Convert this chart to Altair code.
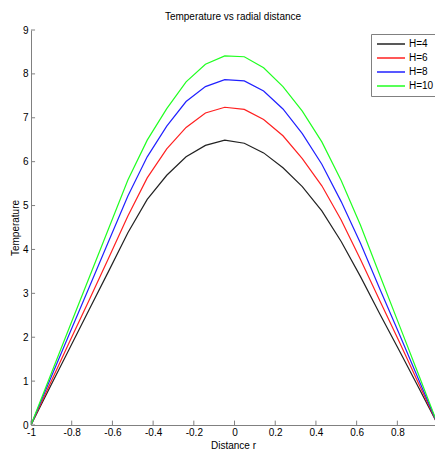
import altair as alt
import pandas as pd

# radial positions (22 nodes from -1 to 1)
R = [-1.0, -0.905, -0.810, -0.714, -0.619, -0.524, -0.429, -0.333, -0.238, -0.143, -0.048,
     0.048, 0.143, 0.238, 0.333, 0.429, 0.524, 0.619, 0.714, 0.810, 0.905, 1.0]

H4 = [0.0, 0.875, 1.75, 2.63, 3.50, 4.38, 5.14, 5.69, 6.11, 6.37, 6.49,
      6.42, 6.20, 5.86, 5.43, 4.88, 4.18, 3.38, 2.53, 1.69, 0.85, 0.0]
H6 = [0.0, 0.95, 1.90, 2.85, 3.80, 4.76, 5.63, 6.29, 6.78, 7.11, 7.24,
      7.19, 6.96, 6.59, 6.07, 5.45, 4.67, 3.77, 2.83, 1.89, 0.94, 0.0]
H8 = [0.0, 1.05, 2.09, 3.14, 4.18, 5.22, 6.11, 6.81, 7.37, 7.71, 7.87,
      7.84, 7.61, 7.20, 6.64, 5.94, 5.09, 4.14, 3.10, 2.07, 1.03, 0.0]
H10 = [0.0, 1.12, 2.24, 3.36, 4.47, 5.58, 6.49, 7.21, 7.82, 8.22, 8.41,
       8.39, 8.14, 7.71, 7.15, 6.45, 5.57, 4.55, 3.41, 2.27, 1.14, 0.0]

SERIES = ["H=4", "H=6", "H=8", "H=10"]
COLORS = ["#222222", "#ff2020", "#2020ff", "#20ff20"]
X_TICKS = [-1, -0.8, -0.6, -0.4, -0.2, 0, 0.2, 0.4, 0.6, 0.8]
Y_TICKS = [0, 1, 2, 3, 4, 5, 6, 7, 8, 9]

rows = []
for name, vals in zip(SERIES, [H4, H6, H8, H10]):
    for r, t in zip(R, vals):
        rows.append({"r": r, "T": t, "H": name})
df = pd.DataFrame(rows)

FONT = "Liberation Sans"
xscale = alt.Scale(domain=[-1, 0.985], nice=False, zero=False)
yscale = alt.Scale(domain=[0, 9], nice=False, zero=False)

label_expr = ("datum.value == 0 ? '0' : (datum.value < 0 ? '-' + format(-datum.value, '~g') "
              ": format(datum.value, '~g'))")

xaxis = alt.Axis(title="Distance r", values=X_TICKS, grid=False, ticks=False, tickSize=0,
                 labelExpr=label_expr, labelPadding=2, labelFontSize=10, labelFont=FONT,
                 labelColor="#000000", titleFont=FONT, titleFontSize=10,
                 titleFontWeight="normal", titleColor="#000000", titlePadding=3,
                 domainColor="#808080", labelFlush=False)
yaxis = alt.Axis(title="Temperature", values=Y_TICKS, grid=False, ticks=False, tickSize=0,
                 format="d", labelPadding=3, labelFontSize=10, labelFont=FONT,
                 labelColor="#000000", titleFont=FONT, titleFontSize=10,
                 titleFontWeight="normal", titleColor="#000000", titlePadding=2,
                 domainColor="#808080")

lines = alt.Chart(df).mark_line(strokeWidth=1.2, clip=True).encode(
    x=alt.X("r:Q", scale=xscale, axis=xaxis),
    y=alt.Y("T:Q", scale=yscale, axis=yaxis),
    color=alt.Color("H:N", sort=SERIES, scale=alt.Scale(domain=SERIES, range=COLORS),
                    legend=alt.Legend(title=None, orient="none", legendX=340, legendY=4,
                                      symbolType="stroke", symbolSize=784, symbolStrokeWidth=1.3,
                                      clipHeight=10,
                                      labelFont=FONT, labelFontSize=10, labelColor="#000000",
                                      labelOffset=3, rowPadding=4, padding=5,
                                      strokeColor="#808080", fillColor="#ffffff",
                                      cornerRadius=0)),
)

xt = alt.Chart(pd.DataFrame({"r": X_TICKS})).mark_rule(color="#808080", strokeWidth=1).encode(
    x=alt.X("r:Q", scale=xscale, axis=xaxis),
    y=alt.datum(0),
    y2=alt.datum(0.1),
)
yt = alt.Chart(pd.DataFrame({"T": Y_TICKS})).mark_rule(color="#808080", strokeWidth=1).encode(
    y=alt.Y("T:Q", scale=yscale, axis=yaxis),
    x=alt.datum(-1),
    x2=alt.datum(-0.98),
)

chart = alt.layer(lines, xt, yt).properties(
    width=404, height=395,
    padding={"left": 23, "top": 22, "right": 0, "bottom": 26},
    autosize=alt.AutoSizeParams(type="none"),
    title=alt.TitleParams("Temperature vs radial distance", font=FONT, fontSize=10,
                          fontWeight="normal", color="#000000", offset=3, anchor="middle"),
    background="#ffffff",
).configure_view(stroke=None)

chart.save("out.html", embed_options={"renderer": "svg", "actions": False})
